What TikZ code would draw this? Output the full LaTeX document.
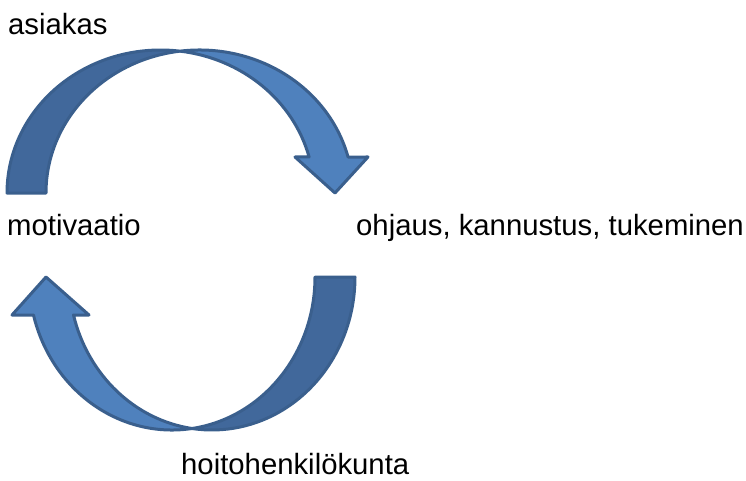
\documentclass[tikz,border=0pt]{standalone}
\usepackage{xcolor}
\usepackage{fontspec}
\setmainfont{Liberation Sans}
\definecolor{edge}{HTML}{3A5F8D}
\definecolor{bandlight}{HTML}{4F81BD}
\definecolor{banddark}{HTML}{41689B}
\begin{document}
\begin{tikzpicture}[x=1pt, y=1pt,
  every node/.style={inner sep=0pt, anchor=base west, font=\fontsize{29.3}{34}\selectfont},
  band/.style={draw=edge, line width=3pt, line join=round},
  darkband/.style={band, fill=banddark},
  lightband/.style={band, fill=bandlight}
]
\useasboundingbox (0,0) rectangle (746,480);

% upper arrow
\draw[darkband] (7,287) arc[start angle=180, end angle=82.70, x radius=153.5, y radius=143]
  arc[start angle=97.30, end angle=180, x radius=153.5, y radius=143] -- cycle;
\draw[lightband] (180,428.84) arc[start angle=97.30, end angle=14.58, x radius=153.5, y radius=143]
  -- (368,323) -- (335,287) -- (295,323) -- (309.1,323)
  arc[start angle=14.58, end angle=82.70, x radius=153.5, y radius=143] -- cycle;

% lower arrow
\draw[darkband] (355,203) arc[start angle=0, end angle=-98.04, x radius=143, y radius=153]
  arc[start angle=-81.96, end angle=0, x radius=143, y radius=153] -- cycle;
\draw[lightband] (192,51.5) arc[start angle=-81.96, end angle=-165.62, x radius=143, y radius=153]
  -- (12,165) -- (46,203) -- (89,165) -- (73.5,165)
  arc[start angle=-165.62, end angle=-98.04, x radius=143, y radius=153] -- cycle;

\node (asiakas) at (8,445) {asiakas};
\node (motivaatio) at (7,245) {motivaatio};
\node (ohjaus) at (356,245) {ohjaus, kannustus, tukeminen};
\node (hoito) at (181,6) {hoitohenkilökunta};
\end{tikzpicture}
\end{document}
